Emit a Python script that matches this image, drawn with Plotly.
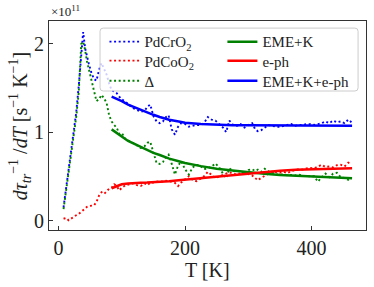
import plotly.graph_objects as go

# Temperatures (K) for the measured curves
T = [8, 12, 16, 20, 24, 28, 32, 36, 39, 42, 45, 48, 52, 56, 60, 64, 68, 72, 76, 80,
     84, 88, 92, 96, 100, 106, 112, 118, 124, 130, 136, 141, 145, 150, 155, 160, 165, 170, 174, 179,
     184, 189, 194, 200, 206, 212, 218, 224, 230, 236, 242, 248, 254, 260, 265, 270, 276, 282, 288, 294,
     300, 306, 311, 315, 320, 326, 332, 338, 344, 350, 356, 362, 368, 374, 380, 386, 392, 398, 404, 410,
     416, 422, 428, 434, 440, 446, 452, 458, 463]

# values in units of 1e11 s^-1 K^-1
pdcro2 = [0.15, 0.36, 0.57, 0.78, 0.99, 1.22, 1.52, 1.90, 2.13, 1.95, 1.85, 1.77, 1.67, 1.60, 1.58, 1.70, 1.78, 1.72, 1.65, 1.55,
          1.47, 1.46, 1.44, 1.40, 1.37, 1.34, 1.30, 1.27, 1.25, 1.23, 1.24, 1.29, 1.31, 1.18, 1.12, 1.10, 1.12, 1.17, 1.19, 1.03,
          0.97, 1.06, 1.10, 1.09, 1.06, 1.07, 1.08, 1.08, 1.10, 1.17, 1.14, 1.13, 1.09, 1.05, 1.00, 1.13, 1.08, 1.07, 1.09, 1.05,
          1.08, 1.10, 1.03, 1.01, 1.02, 1.05, 1.08, 1.07, 1.06, 1.06, 1.07, 1.08, 1.09, 1.07, 1.08, 1.08, 1.09, 1.09, 1.08, 1.09,
          1.10, 1.12, 1.10, 1.13, 1.11, 1.12, 1.10, 1.14, 1.11]

pdcoo2 = [0.02, 0.03, 0.003, 0.025, 0.045, 0.06, 0.075, 0.10, 0.115, 0.14, 0.155, 0.165, 0.17, 0.17, 0.21, 0.28, 0.32, 0.30, 0.33, 0.36,
          0.37, 0.41, 0.39, 0.34, 0.37, 0.40, 0.41, 0.42, 0.40, 0.39, 0.42, 0.40, 0.43, 0.43, 0.44, 0.445, 0.44, 0.45, 0.44, 0.44,
          0.425, 0.39, 0.43, 0.46, 0.50, 0.46, 0.445, 0.47, 0.50, 0.55, 0.52, 0.48, 0.50, 0.52, 0.53, 0.545, 0.53, 0.52, 0.535, 0.54,
          0.525, 0.51, 0.48, 0.455, 0.48, 0.51, 0.53, 0.555, 0.55, 0.54, 0.55, 0.535, 0.56, 0.57, 0.58, 0.575, 0.59, 0.595, 0.59, 0.61,
          0.63, 0.605, 0.61, 0.60, 0.625, 0.63, 0.61, 0.655, 0.64]

delta = [0.13, 0.33, 0.56, 0.76, 0.95, 1.17, 1.45, 2.00, 2.02, 1.93, 1.80, 1.71, 1.56, 1.45, 1.35, 1.37, 1.42, 1.38, 1.33, 1.19,
         1.12, 1.08, 1.05, 0.98, 0.99, 0.92, 0.90, 0.875, 0.85, 0.82, 0.84, 0.88, 0.89, 0.78, 0.65, 0.64, 0.66, 0.72, 0.745, 0.64,
         0.52, 0.62, 0.67, 0.58, 0.52, 0.60, 0.63, 0.62, 0.58, 0.59, 0.61, 0.645, 0.60, 0.53, 0.48, 0.59, 0.56, 0.555, 0.56, 0.52,
         0.57, 0.58, 0.56, 0.575, 0.55, 0.585, 0.555, 0.54, 0.52, 0.52, 0.52, 0.51, 0.515, 0.51, 0.52, 0.505, 0.50, 0.50, 0.50, 0.44,
         0.49, 0.53, 0.49, 0.53, 0.54, 0.49, 0.48, 0.46, 0.47]

# Fit curves
Tf = [84, 90, 95, 100, 110, 120, 130, 140, 150, 160, 175, 190, 200, 225, 250, 275, 300, 325, 350, 375, 400, 425, 450, 464]
eme_k = [1.03, 1.00, 0.975, 0.95, 0.90, 0.865, 0.83, 0.795, 0.765, 0.74, 0.70, 0.67, 0.65, 0.615, 0.585, 0.565, 0.545, 0.53,
         0.515, 0.505, 0.495, 0.488, 0.48, 0.477]
e_ph = [0.365, 0.385, 0.40, 0.41, 0.418, 0.425, 0.428, 0.43, 0.433, 0.438, 0.445, 0.455, 0.462, 0.475, 0.495, 0.515, 0.535,
        0.55, 0.562, 0.573, 0.58, 0.585, 0.59, 0.59]
eme_k_eph = [1.40, 1.38, 1.37, 1.35, 1.31, 1.28, 1.25, 1.22, 1.195, 1.17, 1.14, 1.12, 1.105, 1.09, 1.08, 1.078, 1.076, 1.075,
             1.074, 1.073, 1.072, 1.071, 1.07, 1.07]

BLUE, RED, GREEN = "#0000ff", "#ff0000", "#008000"
FONT = "Liberation Serif"
DOT = "2px,2.6px"

fig = go.Figure()
fig.add_trace(go.Scatter(x=T, y=pdcro2, mode="lines", name="PdCrO<sub>2</sub>", legend="legend",
                         line=dict(color=BLUE, width=1.9, dash=DOT)))
fig.add_trace(go.Scatter(x=T, y=pdcoo2, mode="lines", name="PdCoO<sub>2</sub>", legend="legend2",
                         line=dict(color=RED, width=1.9, dash=DOT)))
fig.add_trace(go.Scatter(x=T, y=delta, mode="lines", name="Δ", legend="legend3",
                         line=dict(color=GREEN, width=1.9, dash=DOT)))
fig.add_trace(go.Scatter(x=Tf, y=eme_k, mode="lines", name="EME+K", legend="legend4",
                         line=dict(color=GREEN, width=2.5)))
fig.add_trace(go.Scatter(x=Tf, y=e_ph, mode="lines", name="e-ph", legend="legend5",
                         line=dict(color=RED, width=2.5)))
fig.add_trace(go.Scatter(x=Tf, y=eme_k_eph, mode="lines", name="EME+K+e-ph", legend="legend6",
                         line=dict(color=BLUE, width=2.5)))

axis_common = dict(showline=True, mirror=True, linecolor="#333333", linewidth=1,
                   ticks="inside", ticklen=4, tickcolor="#333333", showgrid=False,
                   zeroline=False, tickfont=dict(family=FONT, size=20, color="#222222"))

leg_common = dict(orientation="v", yanchor="top", xanchor="left", traceorder="normal",
                  bgcolor="rgba(0,0,0,0)", borderwidth=0, tracegroupgap=0,
                  font=dict(family=FONT, size=15, color="#222222"))

# legend frame (rounded box), paper coordinates
lx0, lx1, ly0, ly1 = 0.161, 0.975, 0.665, 0.966
rx, ry = 0.010, 0.015
frame_path = (f"M {lx0+rx},{ly0} L {lx1-rx},{ly0} Q {lx1},{ly0} {lx1},{ly0+ry} "
              f"L {lx1},{ly1-ry} Q {lx1},{ly1} {lx1-rx},{ly1} L {lx0+rx},{ly1} "
              f"Q {lx0},{ly1} {lx0},{ly1-ry} L {lx0},{ly0+ry} Q {lx0},{ly0} {lx0+rx},{ly0} Z")

col_x = [0.175, 0.547]
row_y = [0.979, 0.888, 0.792]
legends = {}
for i in range(6):
    key = "legend" if i == 0 else f"legend{i+1}"
    legends[key] = dict(x=col_x[i // 3], y=row_y[i % 3], **leg_common)

fig.update_layout(
    width=374, height=287,
    margin=dict(l=49, r=8, t=21, b=57, autoexpand=False),
    paper_bgcolor="white", plot_bgcolor="white",
    font=dict(family=FONT, color="#222222"),
    xaxis=dict(range=[-15, 486], tickvals=[0, 200, 400], automargin=False, **axis_common),
    yaxis=dict(range=[-0.107, 2.255], tickvals=[0, 1, 2], automargin=False, **axis_common),
    showlegend=True,
    shapes=[dict(type="path", path=frame_path, xref="paper", yref="paper", layer="above",
                 fillcolor="rgba(255,255,255,0.8)", line=dict(color="#cccccc", width=1))],
    **legends,
)

fig.add_annotation(text="<i>dτ</i><sub><i>tr</i></sub><sup>−1</sup> /<i>dT</i> [s<sup>−1</sup> K<sup>−1</sup>]",
                   xref="paper", yref="paper", x=-0.092, y=0.5, textangle=-90,
                   showarrow=False, xanchor="center", yanchor="middle",
                   font=dict(family=FONT, size=20, color="#222222"))
fig.add_annotation(text="T [K]", xref="paper", yref="paper", x=0.5, y=-0.191,
                   showarrow=False, xanchor="center", yanchor="middle",
                   font=dict(family=FONT, size=20, color="#222222"))
fig.add_annotation(text="×10<sup>11</sup>", xref="paper", yref="paper", x=0.0, y=1.0,
                   xanchor="left", yanchor="bottom", showarrow=False,
                   font=dict(family=FONT, size=13, color="#222222"))

fig.write_html("out.html", config={"displayModeBar": False},
               post_script="document.body.style.margin='0';document.body.style.overflow='hidden';")
